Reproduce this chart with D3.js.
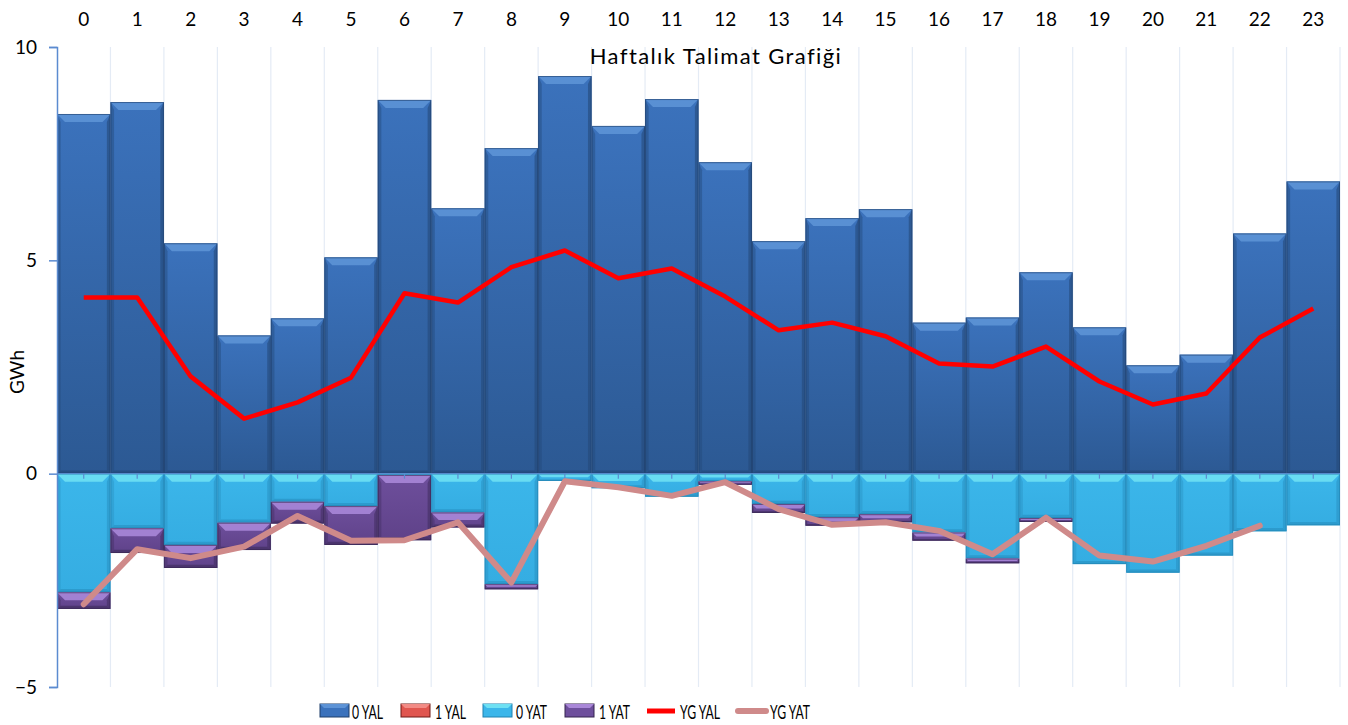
<!DOCTYPE html>
<html>
<head>
<meta charset="utf-8">
<script src="https://cdn.jsdelivr.net/npm/d3@7"></script>
<style>
  body { margin: 0; background: #fff; }
  svg { font-family: Lato, "Open Sans", sans-serif; }
</style>
</head>
<body>
<svg id="chart"></svg>
<script>
// hours of the day
const hours = d3.range(0, 24).map(String);

// stacked bars (GWh)
const yal0 = [8.43, 8.71, 5.40, 3.24, 3.64, 5.07, 8.76, 6.22, 7.63, 9.32, 8.15, 8.78,
              7.30, 5.45, 5.99, 6.20, 3.54, 3.66, 4.72, 3.43, 2.54, 2.79, 5.63, 6.85];
const yal1 = [0, 0, 0, 0, 0, 0, 0, 0, 0, 0, 0, 0, 0, 0, 0, 0, 0, 0, 0, 0, 0, 0, 0, 0];
const yat0 = [-2.78, -1.28, -1.67, -1.15, -0.66, -0.76, -0.03, -0.91, -2.59, -0.17, -0.34, -0.54,
              -0.18, -0.71, -1.02, -0.95, -1.38, -1.99, -1.04, -2.12, -2.32, -1.92, -1.35, -1.21];
const yat1 = [-0.39, -0.58, -0.54, -0.64, -0.51, -0.91, -1.53, -0.35, -0.12, 0, 0, 0,
              -0.08, -0.21, -0.20, -0.19, -0.19, -0.11, -0.09, 0, 0, 0, 0, 0];

// lines
const ygYal = [4.13, 4.13, 2.28, 1.29, 1.67, 2.25, 4.23, 4.01, 4.84, 5.23, 4.58, 4.81,
               4.15, 3.36, 3.54, 3.22, 2.58, 2.51, 2.98, 2.16, 1.62, 1.88, 3.19, 3.87];
const ygYat = [-3.06, -1.77, -1.98, -1.71, -0.99, -1.57, -1.56, -1.14, -2.55, -0.18, -0.32, -0.52,
               -0.20, -0.83, -1.20, -1.14, -1.34, -1.89, -1.03, -1.92, -2.06, -1.69, -1.22, null];

const yTicks = [-5, 0, 5, 10];

const width = 1348, height = 725;
const plotLeft = 57, plotRight = 1340, plotTop = 47, plotBottom = 687;

const svg = d3.select('#chart').attr('width', width).attr('height', height);

const x = d3.scaleBand().domain(hours).range([plotLeft, plotRight]).padding(0);
const y = d3.scaleLinear().domain([-5, 10]).range([plotBottom, plotTop]);

// colour sets for the beveled bars
const palettes = {
  yal0: { top: '#3b72bc', bot: '#2c5993', light: '#5d93d6', dark: '#24497a', edge: '#1f3f6b' },
  yal1: { top: '#e0564f', bot: '#b8322d', light: '#f28b85', dark: '#8f2420', edge: '#6e1a17' },
  yat0: { top: '#3bb6ea', bot: '#35ade2', light: '#6ee0f3', dark: '#2a93c4', edge: '#2182b0' },
  yat1: { top: '#6e4f9c', bot: '#5f4289', light: '#a987d8', dark: '#432f63', edge: '#35244f' }
};

const defs = svg.append('defs');
Object.entries(palettes).forEach(([k, p]) => {
  const g = defs.append('linearGradient').attr('id', 'g-' + k)
    .attr('x1', 0).attr('y1', 0).attr('x2', 0).attr('y2', 1);
  g.append('stop').attr('offset', '0%').attr('stop-color', p.top);
  g.append('stop').attr('offset', '100%').attr('stop-color', p.bot);
});

// vertical gridlines at band edges
const grid = svg.append('g');
hours.forEach((h, i) => {
  const gx = x(h) + x.bandwidth();
  grid.append('line')
    .attr('x1', gx).attr('x2', gx)
    .attr('y1', plotTop).attr('y2', plotBottom)
    .attr('stroke', '#e4ebf5').attr('stroke-width', 1.2);
});

// draw one beveled block
const bevelBar = (g, bx, by, bw, bh, p, k) => {
  if (bh < 0.5) return;
  const b = Math.min(8, bh / 2, bw / 2);
  g.append('rect').attr('x', bx).attr('y', by).attr('width', bw).attr('height', bh)
    .attr('fill', `url(#g-${k})`);
  // top bevel
  g.append('polygon')
    .attr('points', [[bx, by], [bx + bw, by], [bx + bw - b, by + b], [bx + b, by + b]].join(' '))
    .attr('fill', p.light).attr('opacity', 0.9);
  // left side
  g.append('polygon')
    .attr('points', [[bx, by], [bx + b * 0.45, by + b], [bx + b * 0.45, by + bh - b * 0.4], [bx, by + bh]].join(' '))
    .attr('fill', p.dark).attr('opacity', 0.45);
  // right side
  g.append('polygon')
    .attr('points', [[bx + bw, by], [bx + bw - b * 0.45, by + b], [bx + bw - b * 0.45, by + bh - b * 0.4], [bx + bw, by + bh]].join(' '))
    .attr('fill', p.dark).attr('opacity', 0.6);
  // bottom
  g.append('polygon')
    .attr('points', [[bx, by + bh], [bx + bw, by + bh], [bx + bw - b * 0.45, by + bh - b * 0.4], [bx + b * 0.45, by + bh - b * 0.4]].join(' '))
    .attr('fill', p.dark).attr('opacity', 0.7);
  g.append('rect').attr('x', bx + 0.5).attr('y', by + 0.5).attr('width', bw - 1).attr('height', bh - 1)
    .attr('fill', 'none').attr('stroke', p.edge).attr('stroke-opacity', 0.6).attr('stroke-width', 1);
};

const bars = svg.append('g');
hours.forEach((h, i) => {
  const bx = x(h), bw = x.bandwidth();
  // positive stack
  let base = 0;
  [['yal0', yal0[i]], ['yal1', yal1[i]]].forEach(([k, v]) => {
    if (v > 0) {
      bevelBar(bars, bx, y(base + v), bw, y(base) - y(base + v), palettes[k], k);
      base += v;
    }
  });
  // negative stack
  base = 0;
  [['yat0', yat0[i]], ['yat1', yat1[i]]].forEach(([k, v]) => {
    if (v < 0) {
      bevelBar(bars, bx, y(base), bw, y(base + v) - y(base), palettes[k], k);
      base += v;
    }
  });
});

// minor ticks on the zero line at band centres
const zt = svg.append('g');
hours.forEach(h => {
  const cx = x(h) + x.bandwidth() / 2;
  zt.append('line').attr('x1', cx).attr('x2', cx).attr('y1', y(0)).attr('y2', y(0) + 5)
    .attr('stroke', '#5b8bd0').attr('stroke-width', 1.2);
});
svg.append('line').attr('x1', plotLeft).attr('x2', plotRight).attr('y1', y(0)).attr('y2', y(0))
  .attr('stroke', '#5b8bd0').attr('stroke-width', 1);

// lines
const line = d3.line()
  .defined(d => d != null)
  .x((d, i) => x(hours[i]) + x.bandwidth() / 2)
  .y(d => y(d));

svg.append('path').datum(ygYat).attr('d', line)
  .attr('fill', 'none').attr('stroke', '#cf8a8a').attr('stroke-width', 6)
  .attr('stroke-linejoin', 'round').attr('stroke-linecap', 'round');
svg.append('path').datum(ygYal).attr('d', line)
  .attr('fill', 'none').attr('stroke', '#ff0000').attr('stroke-width', 4.5)
  .attr('stroke-linejoin', 'round');

// y axis
const yAxis = svg.append('g').attr('transform', `translate(${plotLeft},0)`)
  .call(d3.axisLeft(y).tickValues(yTicks).tickSize(8).tickPadding(12));
yAxis.select('.domain').attr('stroke', '#5b8bd0').attr('stroke-width', 1.5);
yAxis.selectAll('.tick line').attr('stroke', '#5b8bd0').attr('stroke-width', 1.5);
yAxis.selectAll('.tick text').attr('font-size', 19).attr('fill', '#000')
  .attr('font-family', 'Lato, sans-serif');

// top category labels
const xAxis = svg.append('g').attr('transform', 'translate(0,26)')
  .call(d3.axisTop(x).tickSize(0).tickPadding(0));
xAxis.select('.domain').remove();
xAxis.selectAll('.tick text').attr('font-size', 19).attr('fill', '#000')
  .attr('font-family', 'Lato, sans-serif');

// title
svg.append('text').attr('x', 716).attr('y', 64).attr('text-anchor', 'middle')
  .attr('font-size', 22).attr('letter-spacing', 1.4).attr('fill', '#000')
  .text('Haftalık Talimat Grafiği');

// y label
svg.append('text').attr('transform', 'translate(24,372) rotate(-90)')
  .attr('text-anchor', 'middle').attr('font-size', 19).attr('fill', '#000').text('GWh');

// legend
const legendItems = [
  { name: '0 YAL', type: 'bar', key: 'yal0', x: 320, tx: 352, tw: 31 },
  { name: '1 YAL', type: 'bar', key: 'yal1', x: 401, tx: 435, tw: 31 },
  { name: '0 YAT', type: 'bar', key: 'yat0', x: 483, tx: 516, tw: 31 },
  { name: '1 YAT', type: 'bar', key: 'yat1', x: 565, tx: 599, tw: 31 },
  { name: 'YG YAL', type: 'line', color: '#ff0000', w: 5, x: 647, cap: 'butt', tx: 680, tw: 40 },
  { name: 'YG YAT', type: 'line', color: '#cf8a8a', w: 6, x: 738, cap: 'round', tx: 770, tw: 40 }
];
const lg = svg.append('g');
legendItems.forEach(it => {
  if (it.type === 'bar') {
    const p = palettes[it.key];
    lg.append('rect').attr('x', it.x).attr('y', 704).attr('width', 29).attr('height', 13)
      .attr('fill', p.top).attr('stroke', p.edge).attr('stroke-width', 1);
    lg.append('polygon')
      .attr('points', [[it.x, 704], [it.x + 29, 704], [it.x + 25, 708], [it.x + 4, 708]].join(' '))
      .attr('fill', p.light);
  } else {
    lg.append('line').attr('x1', it.x).attr('x2', it.x + 28).attr('y1', 711).attr('y2', 711)
      .attr('stroke', it.color).attr('stroke-width', it.w).attr('stroke-linecap', it.cap);
  }
  lg.append('text').attr('x', it.tx).attr('y', 719).attr('font-size', 19)
    .attr('textLength', it.tw).attr('lengthAdjust', 'spacingAndGlyphs')
    .attr('fill', '#000').text(it.name);
});
</script>
</body>
</html>
